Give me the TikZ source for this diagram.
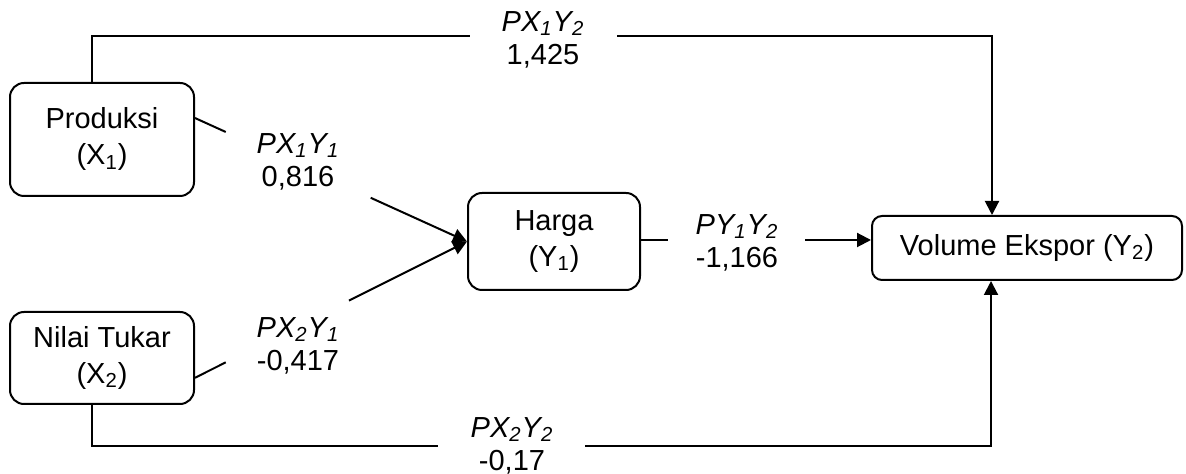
\documentclass[tikz,border=0pt]{standalone}
\usepackage{fontspec}
\setmainfont{Liberation Sans}
\usetikzlibrary{arrows.meta,calc}
\begin{document}
\begin{tikzpicture}[x=0.5pt,y=-0.5pt,
  box/.style={draw,line width=1pt,rounded corners=7pt,align=center,inner sep=0pt,
    font=\fontsize{14.5pt}{18pt}\selectfont},
  lbl/.style={align=center,inner sep=0pt,font=\fontsize{14.5pt}{16.5pt}\selectfont},
  conn/.style={line width=1pt},
  arr/.style={line width=1pt,-{Triangle[length=7pt,width=7pt]}}]
\useasboundingbox (0,0) rectangle (1186,474);
% boxes
\node[box,minimum width=92pt,minimum height=56.5pt] (prod) at (102,139.5) {Produksi\\(X\textsubscript{1})};
\node[box,minimum width=92pt,minimum height=46pt] (nilai) at (102,358) {Nilai Tukar\\(X\textsubscript{2})};
\node[box,minimum width=86pt,minimum height=48.5pt] (harga) at (554,241.5) {Harga\\(Y\textsubscript{1})};
\node[box,minimum width=155pt,minimum height=32pt,rounded corners=5pt] (vol) at (1027,248) {Volume Ekspor (Y\textsubscript{2})};
% labels
\node[lbl] (l12) at (543,40) {\textit{PX\textsubscript{1}Y\textsubscript{2}}\\1,425};
\node[lbl] (l11) at (298,162) {\textit{PX\textsubscript{1}Y\textsubscript{1}}\\0,816};
\node[lbl] (l21) at (298,346) {\textit{PX\textsubscript{2}Y\textsubscript{1}}\\-0,417};
\node[lbl] (ly) at (737,243) {\textit{PY\textsubscript{1}Y\textsubscript{2}}\\-1,166};
\node[lbl] (l22) at (512,446) {\textit{PX\textsubscript{2}Y\textsubscript{2}}\\-0,17};
% free ends of broken connectors
\coordinate (t1) at (470,36);
\coordinate (t2) at (617,36);
\coordinate (b1) at (438,446);
\coordinate (b2) at (585,446);
\coordinate (h1) at (668,240);
\coordinate (h2) at (805,240);
% X1 -> Y2
\draw[conn] ([xshift=-5pt]prod.north) |- (t1);
\draw[arr] (t2) -| ([xshift=-17.5pt]vol.north);
% X2 -> Y2
\draw[conn] ([xshift=-5pt]nilai.south) |- (b1);
\draw[arr] (b2) -| ([xshift=-18pt]vol.south);
% X1 -> Y1
\draw[conn] (prod.13) -- ($(prod.13)!0.113!(harga.west)$);
\draw[arr] ($(prod.13)!0.646!(harga.west)$) -- (harga.west);
% X2 -> Y1
\draw[conn] (nilai.-12) -- ($(nilai.-12)!0.113!(harga.west)$);
\draw[arr] ($(nilai.-12)!0.566!(harga.west)$) -- (harga.west);
% Y1 -> Y2
\draw[conn] (harga.east |- h1) -- (h1);
\draw[arr] (h2) -- (vol.west |- h2);
\end{tikzpicture}
\end{document}
